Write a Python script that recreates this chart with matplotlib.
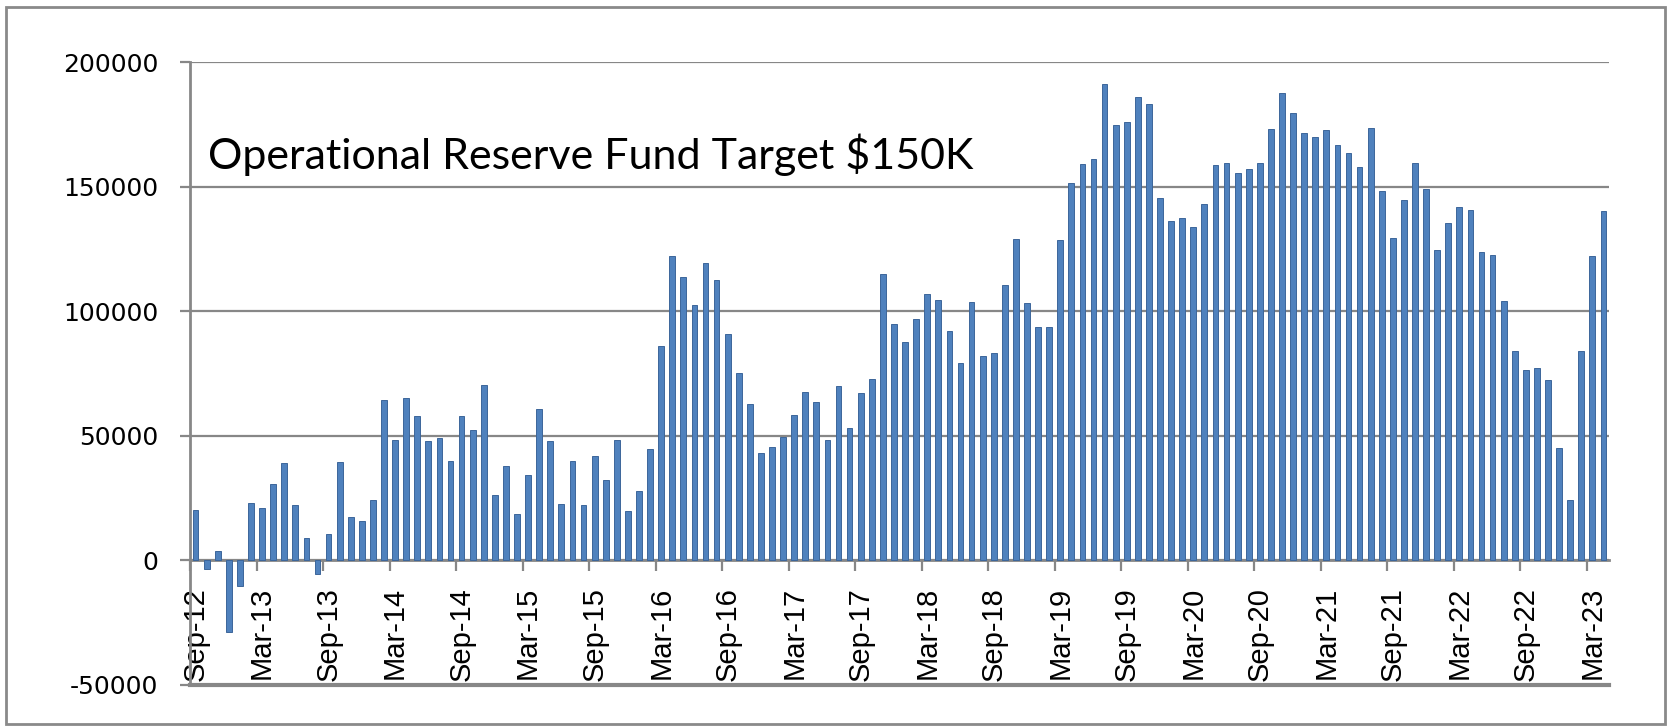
import matplotlib.pyplot as plt
import matplotlib.patches as patches
import numpy as np
import pandas as pd

# monthly balance, Sep-2012 .. Apr-2023
months = pd.date_range('2012-09-01', periods=128, freq='MS')
balance = [
    20400, -3300, 3700, -28700, -10200, 23100, 20900, 30500, 38900, 22200,
    8900, -5600, 10700, 39400, 17600, 15700, 24400, 64400, 48500, 65200,
    57800, 47800, 49100, 39800, 58000, 52200, 70400, 26300, 38000, 18500,
    34300, 60700, 48100, 22600, 39800, 22200, 41700, 32400, 48500, 20000,
    27800, 44800, 86100, 122200, 113900, 102400, 119300, 112400, 90700, 75000,
    62600, 43000, 45400, 49400, 58300, 67600, 63700, 48500, 69800, 53100,
    67000, 72600, 114800, 95000, 87600, 96700, 106900, 104300, 92000, 79300,
    103700, 81900, 83300, 110700, 129100, 103300, 93500, 93500, 128700, 151300,
    158900, 161100, 191100, 174600, 175900, 185900, 183000, 145600, 136300, 137600,
    133900, 143100, 158700, 159400, 155600, 156900, 159300, 173100, 187600, 179600,
    171500, 169800, 172800, 166500, 163300, 157800, 173500, 148100, 129300, 144800,
    159300, 149100, 124400, 135400, 141900, 140600, 123700, 122600, 103900, 84100,
    76500, 77200, 72400, 45200, 24400, 83900, 122200, 140200,
]
tick_labels = ['Sep-12', 'Mar-13', 'Sep-13', 'Mar-14', 'Sep-14', 'Mar-15', 'Sep-15',
               'Mar-16', 'Sep-16', 'Mar-17', 'Sep-17', 'Mar-18', 'Sep-18', 'Mar-19',
               'Sep-19', 'Mar-20', 'Sep-20', 'Mar-21', 'Sep-21', 'Mar-22', 'Sep-22',
               'Mar-23']
y_ticks = [-50000, 0, 50000, 100000, 150000, 200000]
note = 'Operational Reserve Fund Target $150K'

grid_c = '#878787'

fig = plt.figure(figsize=(16.71, 7.27), dpi=100)
ax = fig.add_axes([0.1137, 0.0578, 0.9629 - 0.1137, 0.9147 - 0.0578])

x = np.arange(len(months))
ax.bar(x, balance, width=0.52, color='#4F81BD', edgecolor='#3C669A', linewidth=0.7, zorder=3)

ax.set_xlim(-0.5, len(months) - 0.5)
ax.set_ylim(-50000, 200000)

# gridlines
for v in y_ticks[1:]:
    ax.axhline(v, color=grid_c, lw=1.6, zorder=1)
ax.axhline(-50000, color=grid_c, lw=3, zorder=1, clip_on=False)

# y axis
ax.set_yticks(y_ticks)
ax.set_yticklabels([str(v) for v in y_ticks], fontsize=18, family='DejaVu Sans')
ax.tick_params(axis='y', length=7, width=1.6, color=grid_c, pad=16)
ax.spines['left'].set_color(grid_c)
ax.spines['left'].set_linewidth(2)

# x axis sits on the zero line
ax.spines['bottom'].set_position(('data', 0))
ax.spines['bottom'].set_color(grid_c)
ax.spines['bottom'].set_linewidth(2)
ax.spines['top'].set_visible(False)
ax.spines['right'].set_visible(False)

lab_pos = [i for i in x if months[i].month in (3, 9)]
ax.set_xticks([p - 0.5 for p in lab_pos])
ax.set_xticklabels([])
ax.tick_params(axis='x', which='major', length=8, width=1.6, color=grid_c, direction='out')
ax.set_xticks(lab_pos, minor=True)
ax.set_xticklabels(tick_labels, minor=True, rotation=90, fontsize=21, family='Liberation Sans')
ax.tick_params(axis='x', which='minor', length=0, pad=19)

ax.text(1.1, 157000, note, fontsize=31, family='Lato', va='baseline', ha='left', zorder=4)

# chart border
fig.patches.append(patches.Rectangle((6 / 1671, 3 / 727), 1659 / 1671, 717 / 727,
                                     transform=fig.transFigure, fill=False,
                                     edgecolor='#8a8a8a', linewidth=2))

fig.savefig('out.png', dpi=100)
